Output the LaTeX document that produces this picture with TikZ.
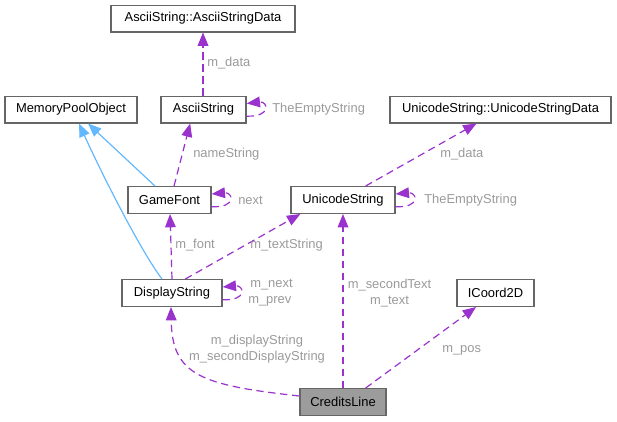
\documentclass[tikz,border=0pt]{standalone}
\usepackage{fontspec}
\setmainfont{Liberation Sans}
\usetikzlibrary{arrows.meta}
\definecolor{boxgray}{HTML}{666666}
\definecolor{edgepurple}{HTML}{9A32CD}
\definecolor{inhblue}{HTML}{63B8FF}
\definecolor{lblgray}{HTML}{9A9A9A}
\begin{document}
\begin{tikzpicture}[x=0.75pt,y=-0.75pt,
  font=\fontsize{9.7}{11.5}\selectfont,
  box/.style={draw=boxgray,line width=1pt,fill=white,minimum height=20pt,inner sep=0pt},
  dep/.style={edgepurple,line width=0.9pt,dash pattern=on 5.5pt off 3.5pt,
    -{Triangle[length=10pt,width=8pt]}},
  inh/.style={inhblue,line width=0.9pt,{Triangle[length=10pt,width=8pt]}-},
  lbl/.style={lblgray,inner sep=0pt}]
 \useasboundingbox (0,0) rectangle (617,421);
 % classes
 \node[box,minimum width=138pt] (asdata) at (203,18.5) {AsciiString::AsciiStringData};
 \node[box,minimum width=99pt] (mpo) at (71,109.5) {MemoryPoolObject};
 \node[box,minimum width=63.75pt] (ascii) at (203.5,109.5) {AsciiString};
 \node[box,minimum width=165.75pt] (usdata) at (500.5,109.5) {UnicodeString::UnicodeStringData};
 \node[box,minimum width=62.25pt] (font) at (169.5,200) {GameFont};
 \node[box,minimum width=78pt] (ustr) at (343,200) {UnicodeString};
 \node[box,minimum width=75pt] (dstr) at (172,293) {DisplayString};
 \node[box,minimum width=57.75pt] (coord) at (495.5,293) {ICoord2D};
 \node[box,minimum width=64.5pt,fill=boxgray!65] (credits) at (343,402) {CreditsLine};
 % inheritance
 \draw[inh] ([xshift=12.75pt]mpo.south) -- ([xshift=-10.9pt]font.north);
 \draw[inh] ([xshift=6pt]mpo.south) .. controls (100,170) and (140,250) .. ([xshift=-7.5pt]dstr.north);
 % members
 \draw[dep] (ascii.north -| asdata.south) -- (asdata.south);
 \node[lbl,anchor=west] at (207,63) {m\_data};
 \draw[dep] ([yshift=-5pt]ascii.east) .. controls (272,117) and (268,101) .. ([yshift=4.5pt]ascii.east);
 \node[lbl,anchor=west] at (272,109.5) {TheEmptyString};
 \draw[dep] ([xshift=3.4pt]font.north) -- ([xshift=-10pt]ascii.south);
 \node[lbl,anchor=west] at (193,154) {nameString};
 \draw[dep] ([yshift=-5pt]font.east) .. controls (237,208) and (233,192) .. ([yshift=4.5pt]font.east);
 \node[lbl,anchor=west] at (238,200) {next};
 \draw[dep] ([xshift=17pt]ustr.north) -- ([xshift=-18pt]usdata.south);
 \node[lbl,anchor=west] at (440,154) {m\_data};
 \draw[dep] ([yshift=-5pt]ustr.east) .. controls (421,208) and (417,192) .. ([yshift=4.5pt]ustr.east);
 \node[lbl,anchor=west] at (424,200) {TheEmptyString};
 \draw[dep] (dstr.north) -- ([xshift=0.4pt]font.south);
 \node[lbl,anchor=west] at (175,245) {m\_font};
 \draw[dep] ([xshift=10pt]dstr.north) -- ([xshift=-32pt]ustr.south);
 \node[lbl,anchor=west] at (250,245) {m\_textString};
 \draw[dep] ([yshift=-5pt]dstr.east) .. controls (248,301) and (244,285) .. ([yshift=4.5pt]dstr.east);
 \node[lbl,anchor=west] at (250,285) {m\_next};
 \node[lbl,anchor=west] at (248,301) {m\_prev};
 \draw[dep] ([yshift=4.5pt]credits.west) .. controls (200,385) and (172,375) .. ([xshift=-0.75pt]dstr.south);
 \node[lbl,align=center] at (257,349) {m\_displayString\\m\_secondDisplayString};
 \draw[dep] (credits.north) -- (ustr.south);
 \node[lbl,align=center] at (389.5,293) {m\_secondText\\m\_text};
 \draw[dep] ([xshift=17pt]credits.north) -- ([xshift=-14.6pt]coord.south);
 \node[lbl,anchor=west] at (442,350) {m\_pos};
\end{tikzpicture}
\end{document}
